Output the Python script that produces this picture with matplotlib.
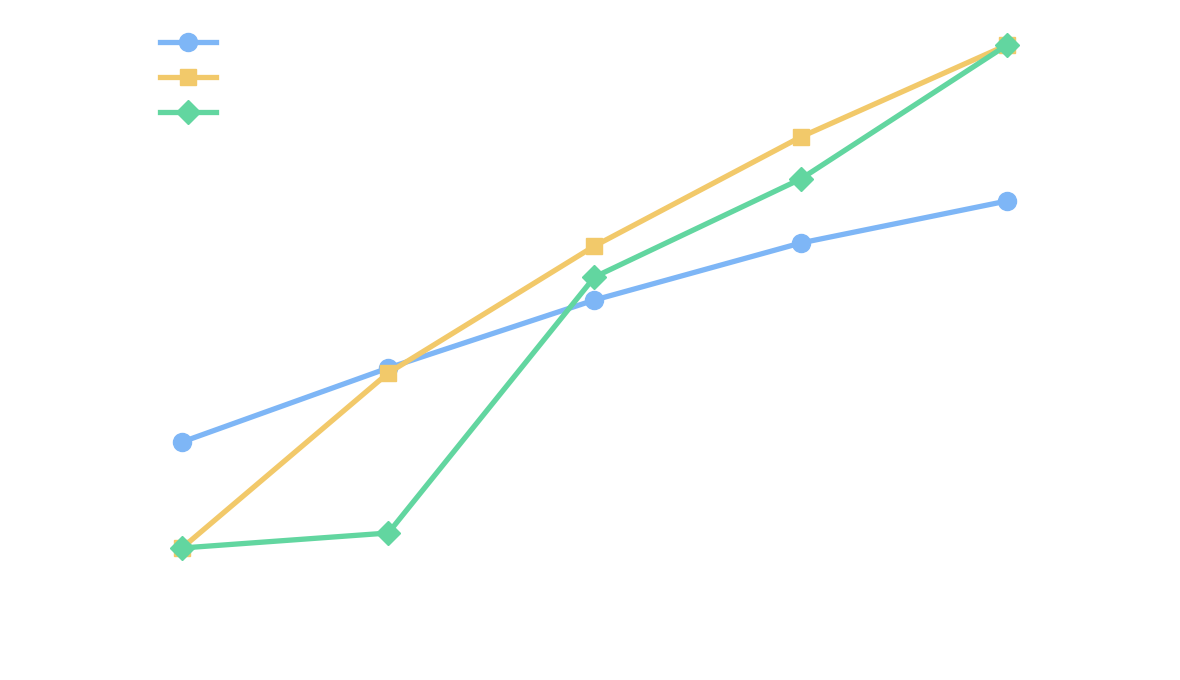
import matplotlib
matplotlib.use("Agg")
import matplotlib.pyplot as plt

categories = [0, 1, 2, 3, 4]
series_a = [238, 312, 380, 437, 479]
series_b = [132, 307, 434, 543, 635]
series_c = [132, 147, 403, 501, 635]

fig = plt.figure(figsize=(11.8, 6.8), dpi=100)
ax = fig.add_axes([0, 0, 1, 1])
ax.set_xlim(-182/206.25, (1180-182)/206.25)
ax.set_ylim(0, 680)
ax.axis('off')

h1, = ax.plot(categories, series_a, color='#7eb6f6', lw=3.8, marker='o', ms=13, zorder=3)
h2, = ax.plot(categories, series_b, color='#f2c96a', lw=3.8, marker='s', ms=12, zorder=4)
h3, = ax.plot(categories, series_c, color='#62d6a0', lw=3.8, marker='D', ms=12, zorder=5)

ax.legend([h1, h2, h3], ['', '', ''], loc='upper left',
          bbox_to_anchor=(160/1180, 1-36/680), bbox_transform=fig.transFigure,
          frameon=False, borderpad=0, borderaxespad=0, handlelength=4,
          handletextpad=0, labelspacing=1.5, fontsize=10)

fig.savefig('out.png', dpi=100)
